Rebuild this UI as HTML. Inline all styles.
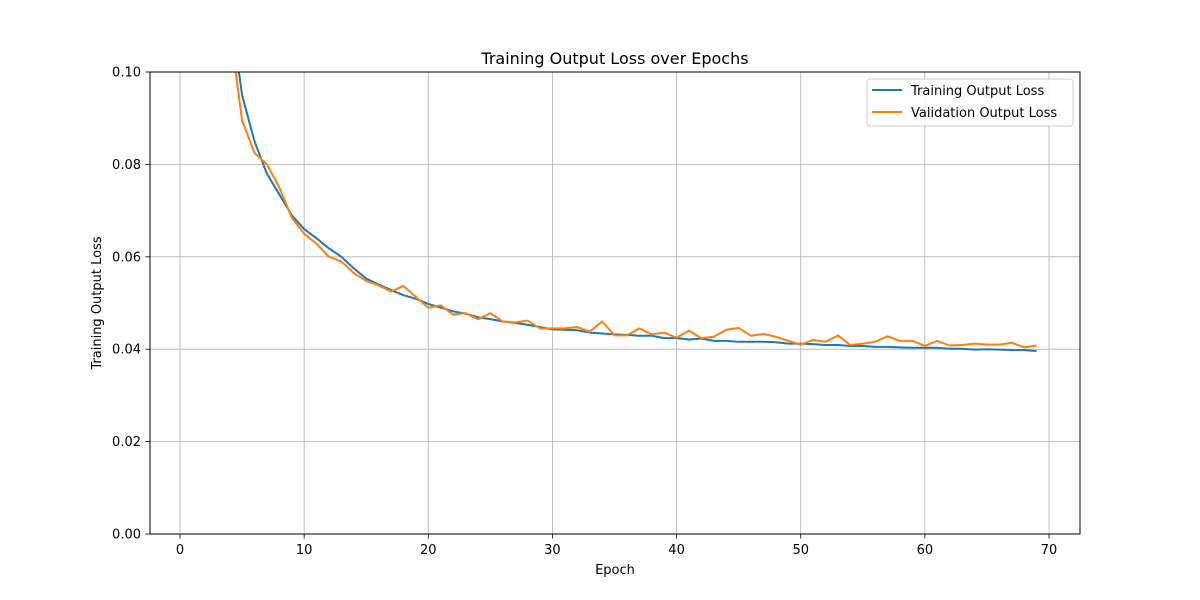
<!DOCTYPE html>
<html><head><meta charset="utf-8"><style>
body{margin:0;background:#fff;}
svg{display:block;font-family:"DejaVu Sans","Liberation Sans",sans-serif;}
</style></head><body>
<svg id="chart" width="1200" height="600" viewBox="0 0 1200 600" xmlns="http://www.w3.org/2000/svg">
<defs><clipPath id="plotclip"><rect x="150" y="72" width="930" height="462"/></clipPath></defs>
<rect width="1200" height="600" fill="#fff"/>
<g id="grid"></g>
<g id="lines" clip-path="url(#plotclip)"></g>
<rect x="150" y="72" width="930" height="462" fill="none" stroke="#000" stroke-width="1"/>
<g id="ticks"></g>
<text x="615" y="64" text-anchor="middle" font-size="16">Training Output Loss over Epochs</text>
<text x="615" y="574" text-anchor="middle" font-size="13">Epoch</text>
<text transform="translate(101,303) rotate(-90)" text-anchor="middle" font-size="13">Training Output Loss</text>
<g>
<rect x="867" y="79" width="206" height="47" rx="3" fill="#fff" fill-opacity="0.8" stroke="#ccc"/>
<g>
<line x1="872" y1="90" x2="902" y2="90" stroke="#1f77b4" stroke-width="2"/>
<text x="911" y="95" font-size="13">Training Output Loss</text></g>
<g>
<line x1="872" y1="112" x2="902" y2="112" stroke="#ff7f0e" stroke-width="2"/>
<text x="911" y="117" font-size="13">Validation Output Loss</text></g>
</g>
</svg>
<script>
const epochs = [];
for (let i = 1; i <= 69; i++) epochs.push(i);
const trainLoss = [0.30,0.20,0.15,0.115,0.095,0.085,0.078,0.0735,0.069,0.066,0.064,0.0618,0.060,0.0575,0.0553,0.054,0.0528,0.0517,0.0509,0.0498,0.049,0.0482,0.0477,0.0469,0.0465,0.046,0.0457,0.0453,0.0448,0.0443,0.0442,0.0441,0.0436,0.0434,0.0432,0.0431,0.0429,0.0429,0.0424,0.0424,0.0421,0.0423,0.0418,0.0418,0.0416,0.0416,0.0416,0.0415,0.0412,0.0412,0.0411,0.0409,0.0409,0.0407,0.0407,0.0405,0.0405,0.0404,0.0403,0.0403,0.0403,0.0401,0.0401,0.0399,0.04,0.0399,0.0398,0.0398,0.0396];
const valLoss = [0.28,0.19,0.14,0.11,0.0895,0.0825,0.080,0.075,0.0685,0.065,0.0628,0.060,0.059,0.0565,0.0548,0.0538,0.0525,0.0537,0.0513,0.049,0.0495,0.0475,0.0478,0.0465,0.0478,0.046,0.0458,0.0462,0.0445,0.0445,0.0445,0.0448,0.0438,0.046,0.043,0.043,0.0445,0.0432,0.0436,0.0425,0.044,0.0424,0.0427,0.0442,0.0446,0.0429,0.0433,0.0427,0.0418,0.041,0.042,0.0416,0.043,0.0409,0.0412,0.0416,0.0428,0.0418,0.0418,0.0407,0.0418,0.0408,0.0409,0.0412,0.041,0.041,0.0414,0.0404,0.0408];
const xTicks = [0,10,20,30,40,50,60,70];
const yTicks = [0,0.02,0.04,0.06,0.08,0.10];
const yTickLabels = ["0.00","0.02","0.04","0.06","0.08","0.10"];

const NS = "http://www.w3.org/2000/svg";
const X = v => 180 + (v - 0) * (1049 - 180) / 70;
const Y = v => 534 - v * 4620;
const grid = document.getElementById('grid');
const ticks = document.getElementById('ticks');
function mk(tag, attrs, parent){const e=document.createElementNS(NS,tag);for(const k in attrs)e.setAttribute(k,attrs[k]);parent.appendChild(e);return e;}
xTicks.forEach(t=>{
  const g = mk('line',{x1:X(t),x2:X(t),y1:72,y2:534,stroke:'#b0b0b0','stroke-width':0.8},grid);
  
  
  mk('line',{x1:X(t),x2:X(t),y1:534,y2:538.5,stroke:'#000','stroke-width':0.8},ticks);
  const tx = mk('text',{x:X(t),y:554,'text-anchor':'middle','font-size':13},ticks);
  tx.textContent = t;
  
  
});
yTicks.forEach((t,i)=>{
  const g = mk('line',{x1:150,x2:1080,y1:Y(t),y2:Y(t),stroke:'#b0b0b0','stroke-width':0.8},grid);
  
  
  mk('line',{x1:145.5,x2:150,y1:Y(t),y2:Y(t),stroke:'#000','stroke-width':0.8},ticks);
  const tx = mk('text',{x:141,y:Y(t)+4.5,'text-anchor':'end','font-size':13},ticks);
  tx.textContent = yTickLabels[i];
  
  
});
const lines = document.getElementById('lines');
function series(vals,color,name){
  const d = vals.map((v,i)=>(i?'L':'M')+X(epochs[i]).toFixed(2)+','+Y(v).toFixed(2)).join(' ');
  const p = mk('path',{d:d,fill:'none',stroke:color,'stroke-width':2,'stroke-linejoin':'round'},lines);
  
  
}
series(trainLoss,'#1f77b4','training-loss-line');
series(valLoss,'#ff7f0e','validation-loss-line');
</script>
</body></html>
